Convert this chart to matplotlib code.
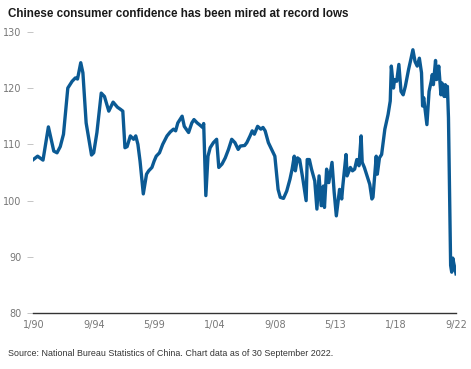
import matplotlib
matplotlib.use("Agg")
import matplotlib.pyplot as plt
from matplotlib import font_manager

# month index counted from Jan 1990
months = [0, 4, 9, 14, 19, 22, 25, 28, 32, 36, 39, 41, 44, 46, 49, 54, 56, 59,
          63, 66, 70, 74, 78, 81, 83, 85, 87, 90, 93, 95, 97, 99, 100, 102,
          105, 107, 110, 112, 114, 117, 120, 124, 127, 130, 132, 134, 138,
          140, 144, 147, 149, 152, 154, 157, 158, 160, 162, 164, 167, 170,
          172, 175, 178, 181, 184, 187, 190, 192, 196, 198, 201, 203, 205,
          208, 211, 213, 215, 218, 221, 224, 227, 229, 232, 235, 238, 240,
          242, 243, 245, 247, 250, 253, 254, 256, 258, 261, 263, 265, 267,
          269, 270, 272, 274, 277, 279, 281, 284, 286, 287, 290, 291, 294,
          296, 298, 300, 302, 304, 305, 307, 310, 312, 314, 315, 318, 319,
          321, 323, 326, 329, 331, 332, 334, 335, 337, 339, 341, 343, 345,
          348, 350, 352, 354, 356, 358, 360, 361, 362, 365, 367, 369, 370,
          371, 373, 374, 376, 378, 379, 381, 382, 383, 384, 385, 387, 388,
          389, 390, 392]
values = [107.3, 107.9, 107.2, 113.1, 108.8, 108.5, 109.6, 111.8, 120.0,
          121.2, 121.8, 121.6, 124.5, 122.7, 113.8, 108.1, 108.5, 112.1,
          119.1, 118.5, 115.9, 117.5, 116.6, 116.2, 115.9, 109.4, 109.6,
          111.5, 110.9, 111.5, 110.0, 107.0, 105.0, 101.2, 104.7, 105.3,
          105.9, 107.0, 107.9, 108.5, 110.0, 111.5, 112.2, 112.7, 112.4,
          113.8, 115.0, 113.2, 112.1, 113.8, 114.4, 113.8, 113.5, 113.0,
          113.7, 100.9, 107.9, 109.4, 110.3, 110.9, 105.9, 106.5, 107.6,
          109.1, 110.9, 110.3, 109.1, 109.7, 109.8, 110.3, 111.5, 112.4,
          111.8, 113.2, 112.7, 113.0, 112.4, 110.3, 109.1, 107.9, 102.0,
          100.6, 100.4, 101.7, 103.8, 105.6, 107.9, 105.3, 107.6, 107.3,
          103.8, 100.0, 107.3, 107.3, 105.6, 103.5, 98.5, 104.4, 99.1,
          102.6, 98.8, 105.6, 103.2, 106.8, 101.5, 97.3, 102.0, 100.3,
          102.6, 108.2, 104.4, 105.9, 105.3, 105.6, 107.3, 106.2, 111.5,
          106.8, 105.9, 104.1, 102.9, 100.3, 100.6, 107.9, 104.7, 107.6,
          108.2, 112.7, 115.3, 117.7, 123.9, 120.0, 121.5, 121.2, 124.2,
          119.4, 118.8, 120.3, 123.3, 125.0, 126.8, 124.7, 123.9, 125.3,
          122.7, 116.8, 118.3, 113.5, 119.4, 121.2, 122.4, 120.6, 124.9,
          121.5, 123.9, 118.8, 120.9, 118.5, 120.6, 118.5, 120.3, 114.7,
          88.5, 87.3, 89.8, 88.8, 87.0]

tick_months = [0, 56, 112, 168, 224, 280, 336, 392]
tick_labels = ["1/90", "9/94", "5/99", "1/04", "9/08", "5/13", "1/18", "9/22"]
y_ticks = [80, 90, 100, 110, 120, 130]

names = {f.name for f in font_manager.fontManager.ttflist}
narrow = "Liberation Sans Narrow" if "Liberation Sans Narrow" in names else "DejaVu Sans"

fig = plt.figure(figsize=(4.71, 3.69), dpi=100)
ax = fig.add_axes([0.0707, 0.151, 0.8975, 0.763])

ax.plot(months, values, color="#0b5a94", lw=2.4, solid_joinstyle="round")

ax.set_xlim(0, 392)
ax.set_ylim(80, 130)
ax.set_xticks(tick_months)
ax.set_xticklabels(tick_labels)
ax.set_yticks(y_ticks)

for s in ["top", "right", "left"]:
    ax.spines[s].set_visible(False)
ax.spines["bottom"].set_color("#333333")
ax.spines["bottom"].set_linewidth(1.0)

ax.tick_params(axis="x", length=0, pad=5, labelsize=7, labelcolor="#777777")
ax.tick_params(axis="y", length=4.5, width=0.6, color="#bbbbbb", pad=4,
               labelsize=7, labelcolor="#777777")
for lab in ax.get_xticklabels() + ax.get_yticklabels():
    lab.set_family(narrow)

fig.text(0.017, 0.963, "Chinese consumer confidence has been mired at record lows",
         fontsize=8.4, fontweight="bold", color="#1a1a1a", va="center",
         family="Liberation Sans")
fig.text(0.017, 0.043, "Source: National Bureau Statistics of China. Chart data as of 30 September 2022.",
         fontsize=6.4, color="#333333", va="center", family="Liberation Sans")

fig.savefig("out.png", dpi=100)
